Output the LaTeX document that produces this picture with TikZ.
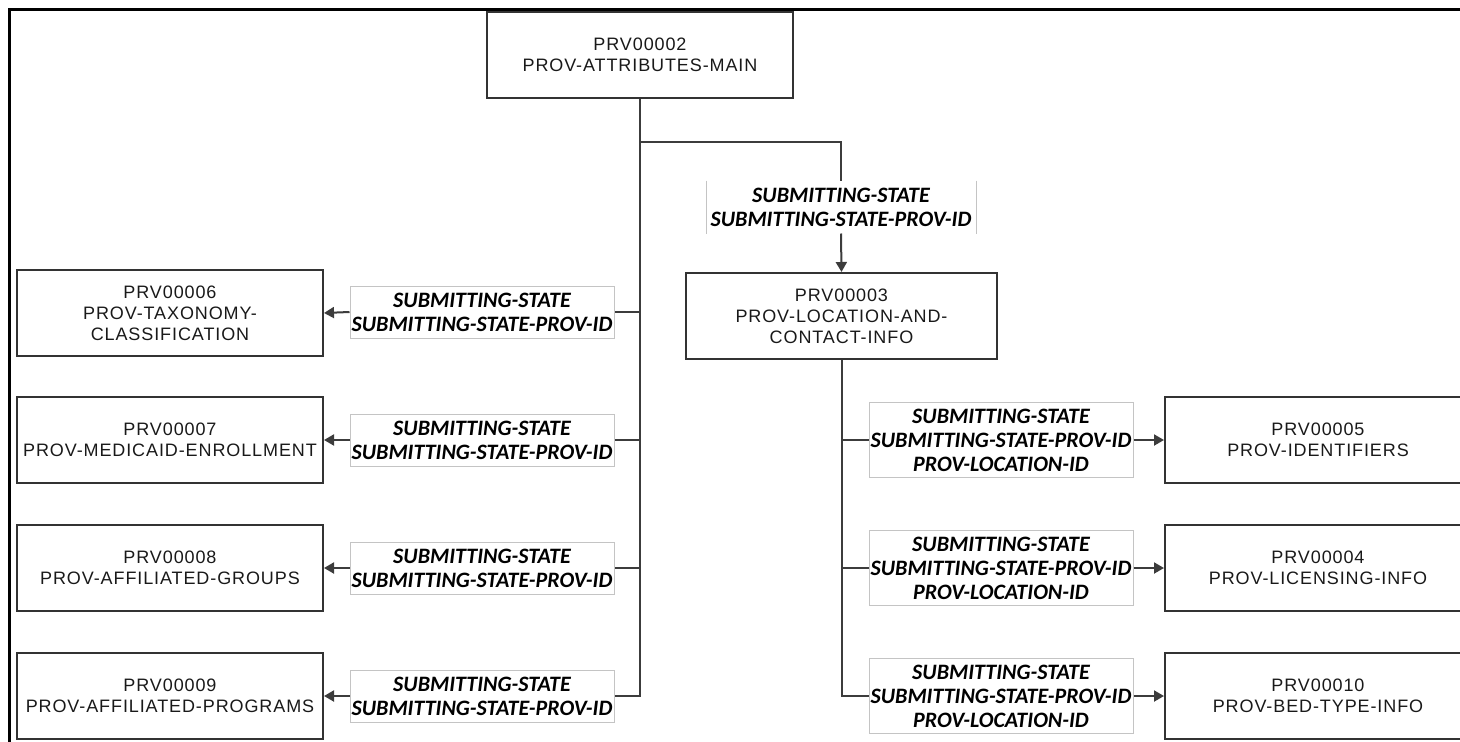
\documentclass[tikz,border=0pt]{standalone}
\usepackage{fontspec}
\setmainfont{Liberation Sans}
\newfontfamily\boxfont[LetterSpace=5]{Liberation Sans}
\newfontfamily\lblfont{Carlito}
\usetikzlibrary{arrows.meta}
\definecolor{boxline}{HTML}{333333}
\definecolor{lblline}{HTML}{C4C4C4}
\definecolor{conn}{HTML}{3C3C3C}
\tikzset{
  tbl/.style={draw=boxline, line width=2pt, minimum width=306pt, minimum height=86pt,
    inner sep=0pt, align=center, text=black!90,
    font=\boxfont\fontsize{18}{21}\selectfont},
  lbl/.style={draw=lblline, line width=1pt, fill=white, minimum width=264pt, inner sep=0pt,
    align=center, font=\lblfont\bfseries\itshape\fontsize{22}{24}\selectfont},
  lbltwo/.style={lbl, minimum height=52pt},
  lblthree/.style={lbl, minimum height=75pt},
  wire/.style={draw=conn, line width=2pt},
  arr/.style={wire, -{Triangle[length=10pt,width=11pt]}},
  frameline/.style={draw=black, line width=2.6pt},
}
\begin{document}
\begin{tikzpicture}[x=1pt,y=-1pt]
\useasboundingbox (0,0) rectangle (1460,742);
\coordinate (fbl) at (9.5,742);
\coordinate (ftl) at (9.5,9.5);
\coordinate (ftr) at (1460,9.5);
\draw[frameline] (fbl) -- (ftl) -- (ftr);

% tables
\node[tbl] (p02) at (640,55) {PRV00002\\PROV-ATTRIBUTES-MAIN};
\node[tbl, minimum width=311pt] (p03) at (841.5,316) {PRV00003\\PROV-LOCATION-AND-\\CONTACT-INFO};
\node[tbl] (p06) at (170,313) {PRV00006\\PROV-TAXONOMY-\\CLASSIFICATION};
\node[tbl] (p07) at (170,440) {PRV00007\\PROV-MEDICAID-ENROLLMENT};
\node[tbl] (p08) at (170,568) {PRV00008\\PROV-AFFILIATED-GROUPS};
\node[tbl] (p09) at (170,696) {PRV00009\\PROV-AFFILIATED-PROGRAMS};
\node[tbl] (p05) at (1318,440) {PRV00005\\PROV-IDENTIFIERS};
\node[tbl] (p04) at (1318,568) {PRV00004\\PROV-LICENSING-INFO};
\node[tbl] (p10) at (1318,696) {PRV00010\\PROV-BED-TYPE-INFO};

% key labels
\node[lbltwo, draw=none, minimum width=269pt] (lt) at (841,207) {SUBMITTING-STATE\\SUBMITTING-STATE-PROV-ID};
\draw[lblline, line width=1pt] (lt.north west) -- (lt.south west) (lt.north east) -- (lt.south east);
\node[lbltwo] (l06) at (482,312) {SUBMITTING-STATE\\SUBMITTING-STATE-PROV-ID};
\node[lbltwo] (l07) at (482,440) {SUBMITTING-STATE\\SUBMITTING-STATE-PROV-ID};
\node[lbltwo] (l08) at (482,568) {SUBMITTING-STATE\\SUBMITTING-STATE-PROV-ID};
\node[lbltwo] (l09) at (482,696) {SUBMITTING-STATE\\SUBMITTING-STATE-PROV-ID};
\node[lblthree] (r05) at (1001,440) {SUBMITTING-STATE\\SUBMITTING-STATE-PROV-ID\\PROV-LOCATION-ID};
\node[lblthree] (r04) at (1001,568) {SUBMITTING-STATE\\SUBMITTING-STATE-PROV-ID\\PROV-LOCATION-ID};
\node[lblthree] (r10) at (1001,696) {SUBMITTING-STATE\\SUBMITTING-STATE-PROV-ID\\PROV-LOCATION-ID};

% left trunk
\draw[wire] (p02.south) -- (p02.south |- l09.east) -- (l09.east);
\foreach \n in {06,07,08} { \draw[wire] (p02.south |- l\n.east) -- (l\n.east); }
\foreach \n in {06,07,08,09} { \draw[arr] (l\n.west) -- (p\n.east); }

% branch to location table
\draw[wire] (p02.south) ++(0,43) -| (lt.north);
\draw[arr] (lt.south) -- (p03.north);

% right trunk
\draw[wire] (p03.south) -- (p03.south |- r10.west) -- (r10.west);
\foreach \n in {05,04} { \draw[wire] (p03.south |- r\n.west) -- (r\n.west); }
\foreach \n in {05,04,10} { \draw[arr] (r\n.east) -- (p\n.west); }
\end{tikzpicture}
\end{document}
